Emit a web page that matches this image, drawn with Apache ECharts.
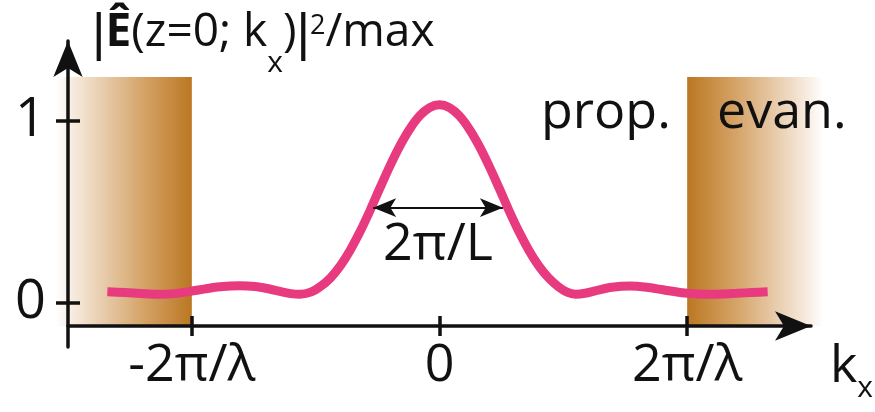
<!DOCTYPE html>
<html>
<head>
<meta charset="utf-8">
<script src="https://cdn.jsdelivr.net/npm/echarts/dist/echarts.min.js"></script>
<style>
  html, body { margin: 0; padding: 0; background: #ffffff; }
  #chart { width: 875px; height: 412px; }
</style>
</head>
<body>
<div id="chart"></div>
<script>
// Transverse wavevector, in units of 2π/λ
const kx = [
  -1.341, -1.269, -1.209, -1.128, -1.067, -1.007, -0.946, -0.898, -0.845, -0.805,
  -0.745, -0.696, -0.640, -0.600, -0.565, -0.520, -0.480, -0.440, -0.400, -0.360,
  -0.320, -0.280, -0.240, -0.200, -0.160, -0.120, -0.080, -0.040, 0.000, 0.040,
  0.080, 0.120, 0.160, 0.200, 0.240, 0.280, 0.320, 0.360, 0.400, 0.440,
  0.480, 0.515, 0.550, 0.587, 0.636, 0.696, 0.769, 0.837, 0.902, 0.991,
  1.080, 1.140, 1.201, 1.261, 1.325
];
// Normalised spectral intensity |E(z=0; kx)|^2 / max
const intensity = [
  0.060, 0.056, 0.051, 0.046, 0.050, 0.062, 0.076, 0.086, 0.092, 0.093,
  0.089, 0.078, 0.061, 0.050, 0.046, 0.058, 0.090, 0.137, 0.204, 0.290,
  0.392, 0.508, 0.632, 0.752, 0.862, 0.955, 1.027, 1.072, 1.088, 1.072,
  1.027, 0.955, 0.862, 0.752, 0.632, 0.508, 0.392, 0.290, 0.204, 0.137,
  0.088, 0.058, 0.047, 0.052, 0.068, 0.085, 0.092, 0.085, 0.071, 0.053,
  0.046, 0.048, 0.052, 0.056, 0.060
];

// Evanescent regions |kx| > 2π/λ
const bandFrom = [-1.55, 1.0];
const bandTo = [-1.0, 1.55];
const bandTop = [1.24, 1.24];

// Full width at half maximum marker (2π/L)
const fwhmLevel = 0.522;
const fwhmFrom = -0.268;
const fwhmTo = 0.256;
const fwhmLabel = '2π/L';

// Axis ticks
const xTickValues = [-1, 0, 1];
const xTickLabels = ['-2π/λ', '0', '2π/λ'];
const yTickValues = [0, 1];
const yTickLabels = ['0', '1'];

const X_MIN = -1.5, X_MAX = 1.5;
const Y_MIN = -0.128, Y_MAX = 1.438;

const FONT = '"Open Sans", "Noto Sans", sans-serif';
const BAR_FONT = '"Liberation Sans", "DejaVu Sans", sans-serif';
const INK = '#111111';
const CURVE = '#e83a7e';

const darkStops = [
  { offset: 0, color: '#ffffff' },
  { offset: 0.12, color: '#f7ece0' },
  { offset: 0.34, color: '#e8cdae' },
  { offset: 0.63, color: '#d6a56a' },
  { offset: 1, color: '#bb7722' }
];
function bandGradient(darkOnRight) {
  const stops = darkOnRight
    ? darkStops
    : darkStops.map(s => ({ offset: 1 - s.offset, color: s.color })).reverse();
  return { type: 'linear', x: 0, y: 0, x2: 1, y2: 0, colorStops: stops };
}

const bandData = bandFrom.map((f, i) => [f, bandTo[i], bandTop[i]]);
const curveData = kx.map((k, i) => [k, intensity[i]]);

const chart = echarts.init(document.getElementById('chart'), null, { renderer: 'canvas' });

const axisLineStyle = { color: INK, width: 3.5 };
const tickStyle = { color: INK, width: 3.5 };

const TITLE_SIZE = 46;

chart.setOption({
  animation: false,
  backgroundColor: '#ffffff',
  grid: [
    { left: 68, right: 64, top: 41, bottom: 86 },
    { left: 68, right: 64, top: 41, bottom: 65 }
  ],
  xAxis: [
    {
      gridIndex: 0, type: 'value', min: X_MIN, max: X_MAX, position: 'bottom', z: 5,
      axisLine: { show: true, onZero: false, lineStyle: axisLineStyle,
        symbol: ['none', 'arrow'], symbolSize: [22, 36] },
      axisTick: { show: true, inside: false, length: 10, customValues: xTickValues, lineStyle: tickStyle },
      axisLabel: { show: true, customValues: xTickValues, margin: 14,
        fontFamily: FONT, fontSize: 52, color: INK,
        formatter: v => xTickLabels[xTickValues.indexOf(v)] },
      splitLine: { show: false }
    },
    {
      gridIndex: 0, type: 'value', min: X_MIN, max: X_MAX, position: 'bottom', z: 5,
      axisLine: { show: false, onZero: false },
      axisTick: { show: true, inside: true, length: 10, customValues: xTickValues, lineStyle: tickStyle },
      axisLabel: { show: false },
      splitLine: { show: false }
    },
    {
      gridIndex: 1, type: 'value', min: X_MIN, max: X_MAX, show: false,
      axisLine: { show: false, onZero: false }, axisTick: { show: false },
      axisLabel: { show: false }, splitLine: { show: false }
    }
  ],
  yAxis: [
    {
      gridIndex: 0, type: 'value', min: Y_MIN, max: Y_MAX, position: 'left', z: 5,
      axisLine: { show: false, onZero: false },
      axisTick: { show: true, inside: false, length: 12, customValues: yTickValues, lineStyle: tickStyle },
      axisLabel: { show: true, customValues: yTickValues, margin: 22,
        padding: [0, 0, 14, 0],
        fontFamily: FONT, fontSize: 54, color: INK,
        formatter: v => yTickLabels[yTickValues.indexOf(v)] },
      splitLine: { show: false }
    },
    {
      gridIndex: 0, type: 'value', min: Y_MIN, max: Y_MAX, position: 'left', z: 5,
      axisLine: { show: false, onZero: false },
      axisTick: { show: true, inside: true, length: 12, customValues: yTickValues, lineStyle: tickStyle },
      axisLabel: { show: false },
      splitLine: { show: false }
    },
    {
      gridIndex: 1, type: 'value', min: 0, max: 1, position: 'left', z: 5,
      axisLine: { show: true, onZero: false, lineStyle: axisLineStyle,
        symbol: ['none', 'arrow'], symbolSize: [22, 36] },
      axisTick: { show: false },
      axisLabel: { show: false },
      splitLine: { show: false }
    }
  ],
  series: [
    {
      type: 'custom',
      xAxisIndex: 0, yAxisIndex: 0,
      z: 1,
      clip: false,
      silent: true,
      data: bandData,
      renderItem: function (params, api) {
        const from = api.value(0), to = api.value(1), top = api.value(2);
        const p0 = api.coord([from, top]);
        const p1 = api.coord([to, Y_MIN]);
        return {
          type: 'rect',
          shape: { x: p0[0], y: p0[1], width: p1[0] - p0[0], height: p1[1] - p0[1] },
          style: { fill: bandGradient(from < 0) }
        };
      }
    },
    {
      type: 'line',
      xAxisIndex: 0, yAxisIndex: 0,
      z: 3,
      data: curveData,
      smooth: 0.3,
      showSymbol: false,
      lineStyle: { color: CURVE, width: 9, cap: 'butt' },
      markLine: {
        silent: true,
        symbol: ['arrow', 'arrow'],
        symbolSize: [14, 23],
        lineStyle: { color: INK, width: 2, type: 'solid' },
        label: {
          show: true, position: 'insideMiddleBottom', distance: 11,
          formatter: fwhmLabel, fontFamily: FONT, fontSize: 52, color: INK
        },
        data: [[{ coord: [fwhmFrom, fwhmLevel] }, { coord: [fwhmTo, fwhmLevel] }]]
      }
    }
  ],
  graphic: [
    {
      type: 'text', x: 92, y: 10, z: 10,
      style: {
        text: '{bar||}{b|Ê}{n|(z=0; k}{s|x}{n|)}{bar||}{p|2}{n|/max}',
        verticalAlign: 'top',
        fill: INK,
        rich: {
          n: { fontFamily: FONT, fontSize: TITLE_SIZE, lineHeight: 50, verticalAlign: 'top', fill: INK },
          bar: { fontFamily: BAR_FONT, fontSize: 52, lineHeight: 50, verticalAlign: 'top', fill: INK },
          b: { fontFamily: FONT, fontSize: TITLE_SIZE, lineHeight: 50, fontWeight: 'bold', verticalAlign: 'top', fill: INK },
          s: { fontFamily: FONT, fontSize: 30, lineHeight: 30, padding: [38, 0, 0, 0], verticalAlign: 'top', fill: INK },
          p: { fontFamily: FONT, fontSize: 27, lineHeight: 27, padding: [3, 0, 0, 0], verticalAlign: 'top', fill: INK }
        }
      }
    },
    {
      type: 'text', x: 830, y: 341, z: 10,
      style: {
        text: '{n|k}{s|x}',
        verticalAlign: 'top',
        rich: {
          n: { fontFamily: FONT, fontSize: 52, lineHeight: 52, verticalAlign: 'top', fill: INK },
          s: { fontFamily: FONT, fontSize: 30, lineHeight: 30, padding: [32, 0, 0, 0], verticalAlign: 'top', fill: INK }
        }
      }
    },
    {
      type: 'text', x: 541, y: 87, z: 10,
      style: { text: 'prop.', fontFamily: FONT, fontSize: 52, fill: INK, verticalAlign: 'top' }
    },
    {
      type: 'text', x: 717, y: 87, z: 10,
      style: { text: 'evan.', fontFamily: FONT, fontSize: 52, fill: INK, verticalAlign: 'top' }
    }
  ]
});
</script>
</body>
</html>
